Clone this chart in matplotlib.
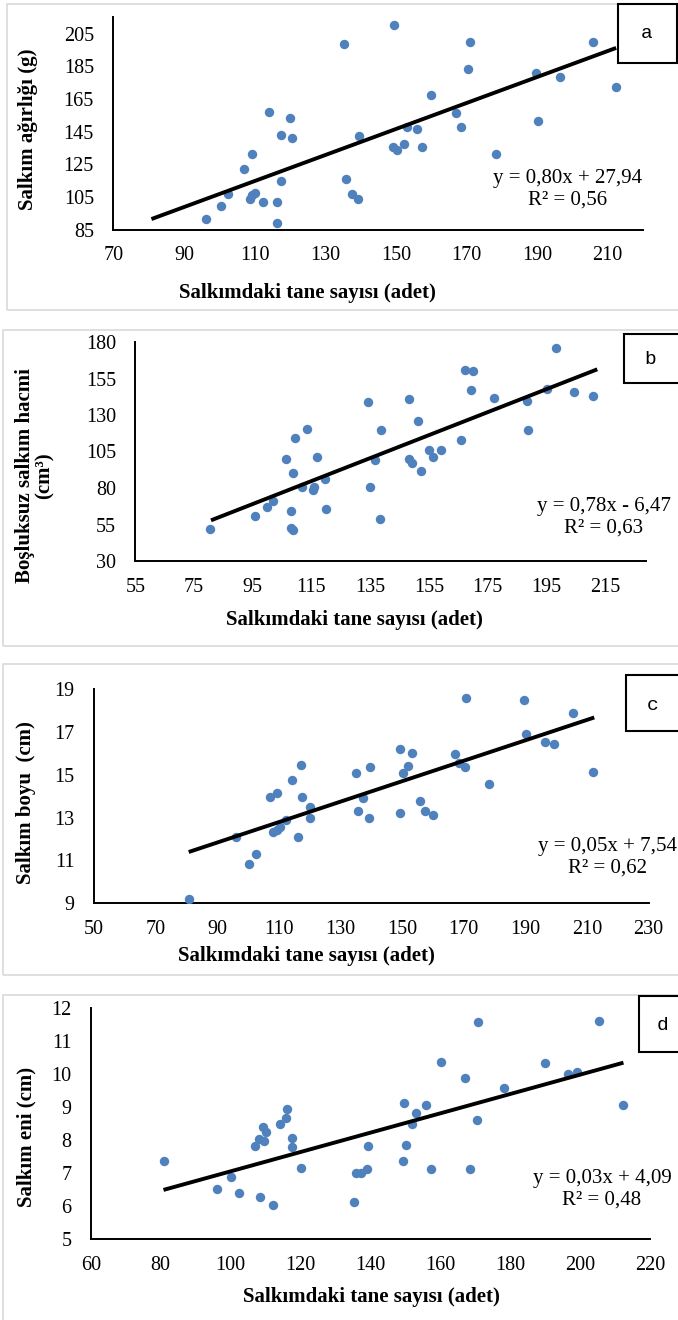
import matplotlib
matplotlib.use("Agg")
import matplotlib.pyplot as plt
from matplotlib.patches import Rectangle
import numpy as np

plt.rcParams['font.family'] = ['Liberation Serif', 'DejaVu Serif']

# --- data (a: bunch weight, b: compact volume, c: length, d: width)
x_a = [96.3, 100.4, 102.5, 107.1, 109.2, 108.6, 109.2, 110.2, 112.4, 114.1, 116.3, 116.3, 117.4,
       117.5, 120.1, 120.5, 135.3, 135.8, 137.5, 139.2, 139.6, 149.4, 149.1, 150.3, 152.2, 153.2,
       156.1, 157.4, 160.1, 167.0, 168.5, 170.4, 171.0, 178.3, 189.8, 190.3, 196.4, 205.7, 212.3]
y_a = [91.5, 99.3, 106.6, 122.1, 131.2, 103.5, 106.2, 107.6, 101.9, 156.9, 102.1, 88.9, 143.0,
       114.9, 153.6, 141.4, 198.6, 116.2, 106.6, 103.5, 142.4, 210.5, 135.7, 133.5, 137.7, 147.9,
       146.5, 135.5, 167.3, 156.3, 147.9, 183.4, 200.1, 131.2, 180.9, 151.6, 178.3, 199.7, 172.6]

x_b = [80.6, 95.7, 99.8, 101.9, 106.3, 108.0, 108.0, 108.6, 108.8, 109.5, 111.7, 113.6, 115.7,
       115.8, 117.0, 119.6, 119.9, 134.3, 135.1, 136.5, 138.5, 138.6, 148.2, 149.3, 148.4, 151.2,
       152.4, 155.2, 156.4, 159.2, 165.9, 167.3, 170.2, 169.5, 177.1, 188.6, 188.9, 195.3, 198.3,
       204.3, 211.0]
y_b = [52.2, 60.9, 67.3, 71.4, 100.2, 64.1, 52.6, 51.5, 90.4, 114.2, 80.5, 120.6, 78.9,
       80.5, 101.3, 86.3, 65.4, 138.6, 81.0, 99.3, 58.8, 119.9, 99.7, 96.8, 140.9, 125.8,
       91.7, 105.7, 101.3, 105.7, 112.8, 160.6, 159.9, 147.1, 141.8, 139.3, 119.6, 147.8, 175.7,
       145.7, 142.7]

x_c = [81.0, 96.3, 100.4, 102.6, 107.1, 109.5, 108.3, 109.3, 110.3, 112.4, 114.2, 116.2, 117.3,
       117.6, 120.3, 120.3, 135.1, 135.8, 137.2, 139.2, 139.5, 149.4, 149.3, 150.4, 152.0, 153.2,
       156.0, 157.6, 160.0, 167.1, 168.5, 170.3, 170.9, 178.1, 189.6, 190.1, 196.4, 199.2, 205.5,
       212.1]
y_c = [9.22, 12.11, 10.82, 11.30, 13.95, 14.15, 12.34, 12.44, 12.58, 12.90, 14.77, 12.08, 15.44,
       13.95, 13.51, 13.00, 15.10, 13.31, 13.90, 13.00, 15.36, 16.20, 13.20, 15.10, 15.42, 16.01,
       13.76, 13.32, 13.11, 15.95, 15.53, 15.38, 18.60, 14.57, 18.50, 16.92, 16.51, 16.45, 17.86,
       15.14]

x_d = [80.9, 96.2, 100.2, 102.4, 107.0, 108.2, 108.5, 109.2, 109.5, 110.2, 112.2, 114.0, 115.9,
       116.1, 117.5, 117.6, 120.2, 135.2, 136.0, 137.3, 139.1, 139.4, 149.2, 149.5, 150.3, 152.0,
       153.1, 156.0, 157.4, 160.2, 167.1, 168.4, 170.4, 170.9, 178.1, 190.0, 196.5, 199.2, 205.5,
       212.2]
y_d = [7.36, 6.52, 6.87, 6.38, 7.82, 8.02, 6.27, 8.39, 7.96, 8.25, 6.03, 8.49, 8.67,
       8.93, 7.78, 8.06, 7.14, 6.12, 7.01, 7.01, 7.13, 7.83, 7.36, 9.12, 7.86, 8.50,
       8.81, 9.07, 7.11, 10.37, 9.87, 7.11, 8.60, 11.59, 9.58, 10.34, 9.99, 10.05, 11.62,
       9.07]

# trend lines as drawn (slope, intercept) and the grain count range they span
trend_slope = [0.796, 0.786, 0.0477, 0.0293]
trend_icpt = [27.2, -5.65, 7.54, 4.12]
grain_range = [80.8, 212.4]

eq_labels = ["y = 0,80x + 27,94\nR² = 0,56", "y = 0,78x - 6,47\nR² = 0,63",
             "y = 0,05x + 7,54\nR² = 0,62", "y = 0,03x + 4,09\nR² = 0,48"]
y_titles = ["Salkım ağırlığı (g)", "Boşluksuz salkım hacmi\n(cm³)", "Salkım boyu  (cm)",
            "Salkım eni (cm)"]
x_title = "Salkımdaki tane sayısı (adet)"
letters = ["a", "b", "c", "d"]

xlims = [(70, 220), (55, 229), (50, 230), (60, 220)]
ylims = [(85, 215), (30, 180), (9, 19), (5, 12)]
xticks = [np.arange(70, 211, 20), np.arange(55, 216, 20), np.arange(50, 231, 20),
          np.arange(60, 221, 20)]
yticks = [np.arange(85, 206, 20), np.arange(30, 181, 25), np.arange(9, 20, 2),
          np.arange(5, 13, 1)]

W, H = 678, 1320
fig = plt.figure(figsize=(W / 100, H / 100), dpi=100)


def fx(px):
    return px / W


def fy(py):
    return 1 - py / H


# pixel layout: (left, right, top, bottom) of plot area
boxes = [(113.3, 643, 17.3, 229.7), (135.3, 646, 342, 561), (93.8, 648.5, 689, 903.3),
         (90.8, 650, 1008, 1239)]
frames = [(7, 4, 310), (3, 330, 646), (3, 664, 975), (3, 995, 1330)]
letter_box = [(618, 677, 4, 63), (624, 690, 334, 383), (626, 690, 675, 731), (639, 690, 996, 1052)]
letter_pos = [(647, 33), (650, 360), (653, 705), (663, 1025)]
eq_pos = [(568, 189), (604, 517), (608, 857), (602, 1189)]
ylab_pos = [(28, 129), (35, 476), (26, 803), (26, 1137)]
xlab_pos = [(307, 293), (354, 620), (306, 956), (371, 1297)]

xs = [x_a, x_b, x_c, x_d]
ys = [y_a, y_b, y_c, y_d]

for i in range(4):
    fl, ft, fb = frames[i]
    fig.patches.append(Rectangle((fx(fl), fy(fb)), fx(700 - fl), (fb - ft) / H,
                                 transform=fig.transFigure, fill=False,
                                 edgecolor='#d9d9d9', lw=1.2, zorder=0))

    l, r, t, b = boxes[i]
    ax = fig.add_axes([fx(l), fy(b), (r - l) / W, (b - t) / H])
    ax.scatter(xs[i], ys[i], s=46, color='#4f81bd', zorder=3, linewidths=0)
    tx = np.array(grain_range)
    ax.plot(tx, trend_slope[i] * tx + trend_icpt[i], color='black', lw=2.8, zorder=4,
            solid_capstyle='butt')
    ax.set_xlim(*xlims[i])
    ax.set_ylim(*ylims[i])
    ax.set_xticks(xticks[i])
    ax.set_yticks(yticks[i])
    ax.tick_params(length=0, labelsize=14.5)
    ax.tick_params(axis='y', pad=14)
    ax.tick_params(axis='x', pad=12)
    for s in ['top', 'right']:
        ax.spines[s].set_visible(False)
    for s in ['left', 'bottom']:
        ax.spines[s].set_linewidth(1.4)
        ax.spines[s].set_color('black')
    ax.patch.set_alpha(0)

    ex, ey = eq_pos[i]
    fig.text(fx(ex), fy(ey), eq_labels[i], ha='center', va='center', fontsize=15,
             linespacing=1.15)
    lx, ly = ylab_pos[i]
    fig.text(fx(lx), fy(ly), y_titles[i], ha='center', va='center', rotation=90,
             fontsize=15, fontweight='bold', linespacing=1.0)
    xx, xy = xlab_pos[i]
    fig.text(fx(xx), fy(xy), x_title, ha='center', va='center', fontsize=15,
             fontweight='bold')

    bl, br, bt, bb = letter_box[i]
    fig.patches.append(Rectangle((fx(bl), fy(bb)), (br - bl) / W, (bb - bt) / H,
                                 transform=fig.transFigure, facecolor='white',
                                 edgecolor='black', lw=1.5, zorder=5))
    px, py = letter_pos[i]
    fig.text(fx(px), fy(py), letters[i], ha='center', va='center', fontsize=14,
             family='Liberation Mono', zorder=6)

fig.savefig('out.png', dpi=100)
